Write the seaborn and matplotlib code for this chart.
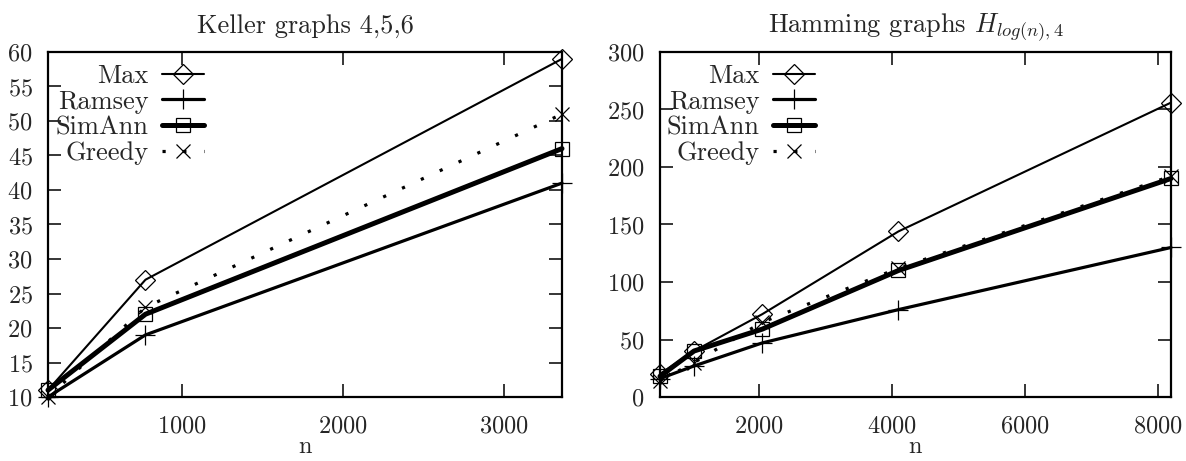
import numpy as np
import pandas as pd
import matplotlib
matplotlib.use("Agg")
import matplotlib.pyplot as plt
import seaborn as sns

# Keller graphs (DIMACS keller4, keller5, keller6)
keller_n = [171, 776, 3361]
keller_max = [11, 27, 59]
keller_ramsey = [10, 19, 41]
keller_simann = [11, 22, 46]
keller_greedy = [10, 23, 51]

# Hamming graphs H_{log(n),4}
ham_n = [512, 1024, 2048, 4096, 8192]
ham_max = [20, 40, 72, 144, 256]
ham_ramsey = [16, 27, 47, 76, 130]
ham_simann = [18, 40, 59, 110, 190]
ham_greedy = [14, 30, 65, 112, 192]

series_names = ["Max", "Ramsey", "SimAnn", "Greedy"]

sns.set_style("ticks")
plt.rcParams["font.family"] = ["cmr10", "DejaVu Serif"]
plt.rcParams["mathtext.fontset"] = "cm"
plt.rcParams["axes.formatter.use_mathtext"] = True
plt.rcParams["axes.linewidth"] = 1.6
plt.rcParams["axes.edgecolor"] = "black"

FS = 17.5
TITLE_FS = 19
LEG_FS = 19

styles = {
    "Max": dict(marker="D", markersize=10, linewidth=1.5, linestyle="-"),
    "Ramsey": dict(marker="+", markersize=15, linewidth=2.3, linestyle="-"),
    "SimAnn": dict(marker="s", markersize=10.5, linewidth=3.6, linestyle="-"),
    "Greedy": dict(marker="x", markersize=10.5, linewidth=2.3, linestyle=(0, (1, 5.5))),
}


def draw_panel(ax, n, values, title, xlim, ylim, xticks, yticks):
    df = pd.DataFrame({"n": n})
    for name, vals in zip(series_names, values):
        df[name] = vals
    for name in series_names:
        sns.lineplot(data=df, x="n", y=name, ax=ax, color="black",
                     markeredgecolor="black", markerfacecolor="none",
                     markeredgewidth=0.9, clip_on=False, label=name,
                     **styles[name])
    ax.set_xlim(*xlim)
    ax.set_ylim(*ylim)
    ax.set_xticks(xticks)
    ax.set_yticks(yticks)
    ax.set_xlabel("n", fontsize=FS, labelpad=-1)
    ax.set_ylabel("")
    ax.set_title(title, fontsize=TITLE_FS, pad=14)
    ax.tick_params(axis="both", direction="in", length=9.5, width=1.3,
                   top=True, right=True, labelsize=FS)
    ax.tick_params(axis="x", pad=13)
    ax.tick_params(axis="y", pad=11)
    for sp in ax.spines.values():
        sp.set_visible(True)
        sp.set_linewidth(1.6)
    leg = ax.legend(loc="upper right", bbox_to_anchor=(0.303, 0.965),
                    frameon=False, markerfirst=False, fontsize=LEG_FS,
                    handlelength=1.6, handletextpad=0.5, labelspacing=0.08,
                    borderpad=0, borderaxespad=0, numpoints=1)
    return leg


fig = plt.figure(figsize=(11.86, 4.61), dpi=100)
ax1 = fig.add_axes([48 / 1186, 1 - 397 / 461, 514 / 1186, 345 / 461])
ax2 = fig.add_axes([660 / 1186, 1 - 397 / 461, 511 / 1186, 345 / 461])

draw_panel(ax1, keller_n,
           [keller_max, keller_ramsey, keller_simann, keller_greedy],
           "Keller graphs 4,5,6", (171, 3361), (10, 60),
           [1000, 2000, 3000], np.arange(10, 61, 5))
draw_panel(ax2, ham_n,
           [ham_max, ham_ramsey, ham_simann, ham_greedy],
           r"Hamming graphs $H_{log(n),4}$", (512, 8192), (0, 300),
           [2000, 4000, 6000, 8000], np.arange(0, 301, 50))

fig.savefig("out.png", dpi=100)
